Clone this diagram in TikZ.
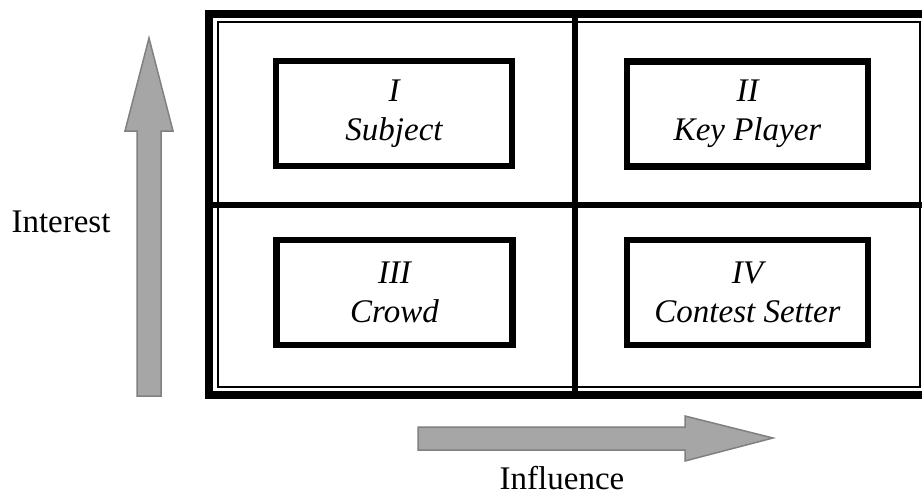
\documentclass[tikz,border=0pt]{standalone}
\usepackage{fontspec}
\setmainfont{Liberation Serif}
\definecolor{arrowgray}{RGB}{166,166,166}
\definecolor{arrowedge}{RGB}{128,128,128}
\usetikzlibrary{positioning}

\begin{document}
\begin{tikzpicture}[x=1pt, y=-1pt,
    quadbox/.style={draw, line width=6.5pt, minimum width=236pt, minimum height=105pt,
        align=center, font=\fontsize{33}{39}\selectfont\itshape},
    axislabel/.style={font=\fontsize{33}{39}\selectfont},
    bigarrow/.style={fill=arrowgray, draw=arrowedge, line width=1.5pt, line join=miter}]
    \useasboundingbox (0,0) rectangle (922,495);

    % Outer frame (double line)
    \draw[line width=8pt] (209,14) rectangle (930,395);
    \draw[line width=2pt] (218,22) rectangle (920,387);

    % Dividers
    \draw[line width=6pt] (575,14) -- (575,395);
    \draw[line width=6pt] (209,204.5) -- (930,204.5);

    % Quadrants
    \node[quadbox] (subject) at (394,113.5) {I\\Subject};
    \node[quadbox, minimum width=241pt] (keyplayer) at (747.5,114) {II\\Key Player};
    \node[quadbox] (crowd) at (394.5,292.5) {III\\Crowd};
    \node[quadbox, minimum width=241pt] (contest) at (747.5,292.5) {IV\\Contest Setter};

    % Interest arrow
    \draw[bigarrow] (137,396) -- (137,131) -- (125,131) -- (149,38)
        -- (173,131) -- (161,131) -- (161,396) -- cycle;
    \node[axislabel] (interest) at (61,222) {Interest};

    % Influence arrow
    \draw[bigarrow] (418,427) -- (685,427) -- (685,416) -- (773,438)
        -- (685,461) -- (685,450) -- (418,450) -- cycle;
    \node[axislabel] (influence) at (562,478) {Influence};
\end{tikzpicture}
\end{document}
